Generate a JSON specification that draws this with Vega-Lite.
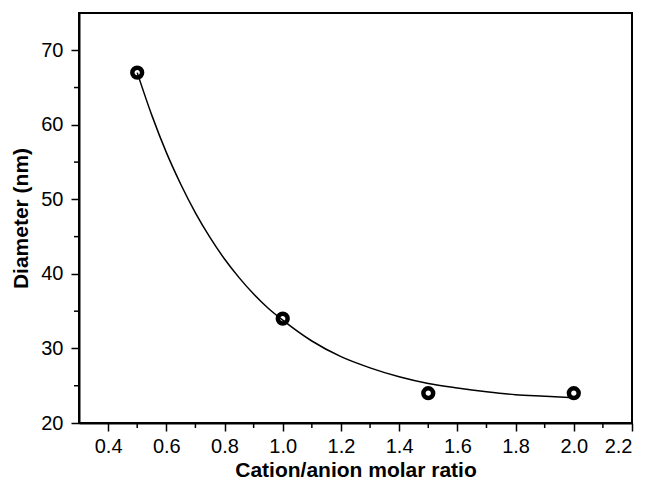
{
  "$schema": "https://vega.github.io/schema/vega-lite/v6.json",
  "width": 553,
  "height": 410,
  "autosize": "none",
  "padding": {"left": 79, "top": 13, "right": 15, "bottom": 60},
  "background": "white",
  "config": {
    "font": "Liberation Sans",
    "view": {"stroke": "black", "strokeWidth": 2},
    "axis": {
      "grid": false,
      "domainColor": "black",
      "domainWidth": 2,
      "tickColor": "black",
      "tickWidth": 1.5,
      "tickSize": 8,
      "labelFont": "Liberation Sans",
      "labelFontSize": 20,
      "labelColor": "black",
      "titleFont": "Liberation Sans",
      "titleFontSize": 21,
      "titleFontWeight": "bold",
      "titleColor": "black"
    }
  },
  "datasets": {
    "pts": [
      {"ratio": 0.5, "diameter": 67},
      {"ratio": 1.0, "diameter": 34},
      {"ratio": 1.5, "diameter": 24},
      {"ratio": 2.0, "diameter": 24}
    ],
    "fit": [
      {"ratio": 0.5, "diameter": 67.0},
      {"ratio": 0.55, "diameter": 61.3},
      {"ratio": 0.6, "diameter": 56.3},
      {"ratio": 0.65, "diameter": 52.0},
      {"ratio": 0.7, "diameter": 48.2},
      {"ratio": 0.75, "diameter": 44.9},
      {"ratio": 0.8, "diameter": 42.0},
      {"ratio": 0.85, "diameter": 39.5},
      {"ratio": 0.9, "diameter": 37.3},
      {"ratio": 0.95, "diameter": 35.4},
      {"ratio": 1.0, "diameter": 33.8},
      {"ratio": 1.1, "diameter": 31.0},
      {"ratio": 1.2, "diameter": 28.9},
      {"ratio": 1.3, "diameter": 27.4},
      {"ratio": 1.4, "diameter": 26.2},
      {"ratio": 1.5, "diameter": 25.3},
      {"ratio": 1.6, "diameter": 24.7},
      {"ratio": 1.7, "diameter": 24.2},
      {"ratio": 1.8, "diameter": 23.8},
      {"ratio": 1.9, "diameter": 23.6},
      {"ratio": 2.0, "diameter": 23.4}
    ],
    "minorx": [
      {"ratio": 0.5}, {"ratio": 0.7}, {"ratio": 0.9}, {"ratio": 1.1}, {"ratio": 1.3},
      {"ratio": 1.5}, {"ratio": 1.7}, {"ratio": 1.9}, {"ratio": 2.1}
    ],
    "minory": [
      {"diameter": 25}, {"diameter": 35}, {"diameter": 45}, {"diameter": 55}, {"diameter": 65}
    ]
  },
  "layer": [
    {
      "data": {"name": "fit"},
      "mark": {"type": "line", "color": "black", "strokeWidth": 1.5, "interpolate": "monotone", "clip": true},
      "encoding": {
        "x": {
          "field": "ratio", "type": "quantitative",
          "scale": {"domain": [0.3, 2.2], "nice": false, "zero": false},
          "axis": {
            "title": "Cation/anion molar ratio",
            "values": [0.4, 0.6, 0.8, 1.0, 1.2, 1.4, 1.6, 1.8, 2.0, 2.2],
            "format": ".1f",
            "labelPadding": 5,
            "titlePadding": 3
          }
        },
        "y": {
          "field": "diameter", "type": "quantitative",
          "scale": {"domain": [20, 75], "nice": false, "zero": false},
          "axis": {
            "title": "Diameter (nm)",
            "values": [20, 30, 40, 50, 60, 70],
            "labelPadding": 8,
            "titlePadding": 9
          }
        }
      }
    },
    {
      "data": {"name": "pts"},
      "mark": {"type": "point", "shape": "circle", "filled": false, "color": "black", "opacity": 1, "strokeWidth": 4.5, "size": 95},
      "encoding": {
        "x": {"field": "ratio", "type": "quantitative"},
        "y": {"field": "diameter", "type": "quantitative"}
      }
    },
    {
      "data": {"name": "minorx"},
      "mark": {"type": "tick", "orient": "vertical", "color": "black", "opacity": 1, "thickness": 1.5, "size": 5, "yOffset": 2.5, "clip": false},
      "encoding": {
        "x": {"field": "ratio", "type": "quantitative"},
        "y": {"datum": 20, "type": "quantitative"}
      }
    },
    {
      "data": {"name": "minory"},
      "mark": {"type": "tick", "orient": "horizontal", "color": "black", "opacity": 1, "thickness": 1.5, "size": 5, "xOffset": -2.5, "clip": false},
      "encoding": {
        "y": {"field": "diameter", "type": "quantitative"},
        "x": {"datum": 0.3, "type": "quantitative"}
      }
    }
  ]
}
